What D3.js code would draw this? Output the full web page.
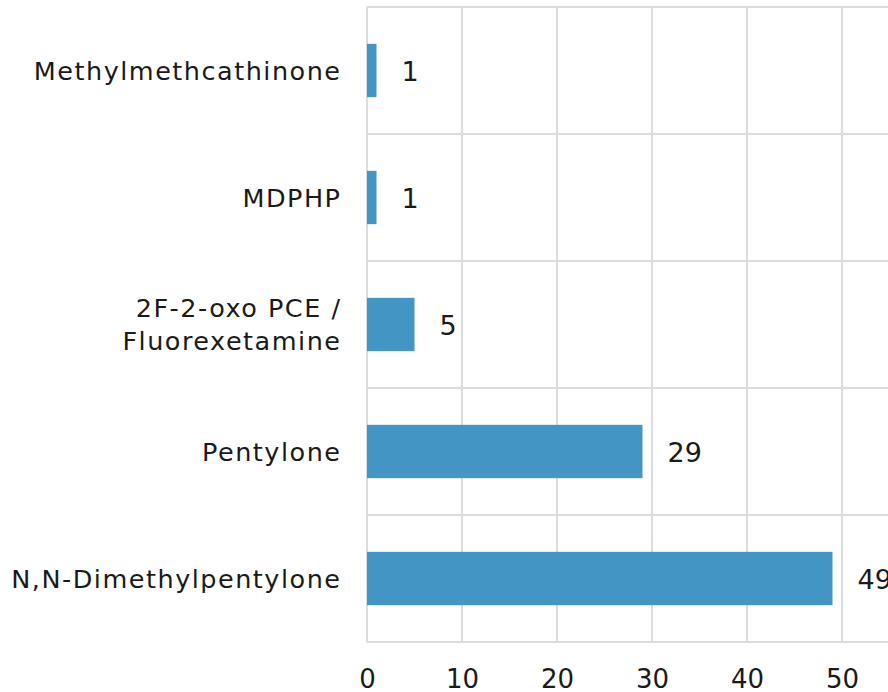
<!DOCTYPE html>
<html>
<head>
<meta charset="utf-8">
<script src="https://cdn.jsdelivr.net/npm/d3@7"></script>
<style>
  html, body { margin: 0; padding: 0; background: #fff; overflow: hidden; }
  svg { display: block; }
  text { font-family: "DejaVu Sans", sans-serif; fill: #1a1a1a; }
</style>
</head>
<body>
<svg id="chart" width="888" height="692"></svg>
<script>
const categories = ["Methylmethcathinone", "MDPHP", "2F-2-oxo PCE / Fluorexetamine", "Pentylone", "N,N-Dimethylpentylone"];
const categoryLines = [["Methylmethcathinone"], ["MDPHP"], ["2F-2-oxo PCE /", "Fluorexetamine"], ["Pentylone"], ["N,N-Dimethylpentylone"]];
const values = [1, 1, 5, 29, 49];
const tickValues = [0, 10, 20, 30, 40, 50, 60];

const svg = d3.select("#chart");
const plotLeft = 367, plotTop = 7, plotBottom = 642;

const x = d3.scaleLinear().domain([0, 60]).range([plotLeft, 937]);
const y = d3.scaleBand().domain(categories).range([plotTop, plotBottom]).paddingInner(0.58).paddingOuter(0.29);
const step = y.step();

const grid = svg.append("g").attr("stroke", "#dcdcdc").attr("stroke-width", 2);
grid.selectAll("line.v").data(tickValues).join("line")
  .attr("x1", d => x(d)).attr("x2", d => x(d))
  .attr("y1", plotTop).attr("y2", plotBottom);
const bounds = categories.map(c => y(c) - (step - y.bandwidth()) / 2);
bounds.push(plotBottom);
grid.selectAll("line.h").data(bounds).join("line")
  .attr("x1", plotLeft).attr("x2", 940)
  .attr("y1", d => d).attr("y2", d => d);

svg.append("g").selectAll("rect").data(categories).join("rect")
  .attr("x", x(0))
  .attr("y", d => y(d))
  .attr("width", (d, i) => x(values[i]) - x(0))
  .attr("height", y.bandwidth())
  .attr("fill", "#4396c3");

svg.append("g").selectAll("text").data(categories).join("text")
  .attr("x", (d, i) => x(values[i]) + 25)
  .attr("y", d => y(d) + y.bandwidth() / 2 + 1)
  .attr("dominant-baseline", "central")
  .attr("font-size", 27)
  .text((d, i) => values[i]);

const cat = svg.append("g").selectAll("text").data(categories).join("text")
  .attr("text-anchor", "end")
  .attr("font-size", 25.5)
  .style("letter-spacing", "1.5px");
cat.each(function(d, i) {
  const lines = categoryLines[i];
  const t = d3.select(this);
  const lh = 33;
  lines.forEach((ln, j) => {
    t.append("tspan")
      .attr("x", 341.5)
      .attr("y", y(d) + y.bandwidth() / 2 + (j - (lines.length - 1) / 2) * lh)
      .attr("dominant-baseline", "central")
      .text(ln);
  });
});

const axis = d3.axisBottom(x).tickValues(tickValues).tickSize(0).tickPadding(0);
const ax = svg.append("g").attr("transform", `translate(0, ${plotBottom})`).call(axis);
ax.select(".domain").remove();
ax.selectAll("text")
  .attr("font-size", 26)
  .attr("dy", null)
  .attr("y", 46)
  .style("font-family", "'DejaVu Sans', sans-serif")
  .style("fill", "#1a1a1a");
</script>
</body>
</html>
